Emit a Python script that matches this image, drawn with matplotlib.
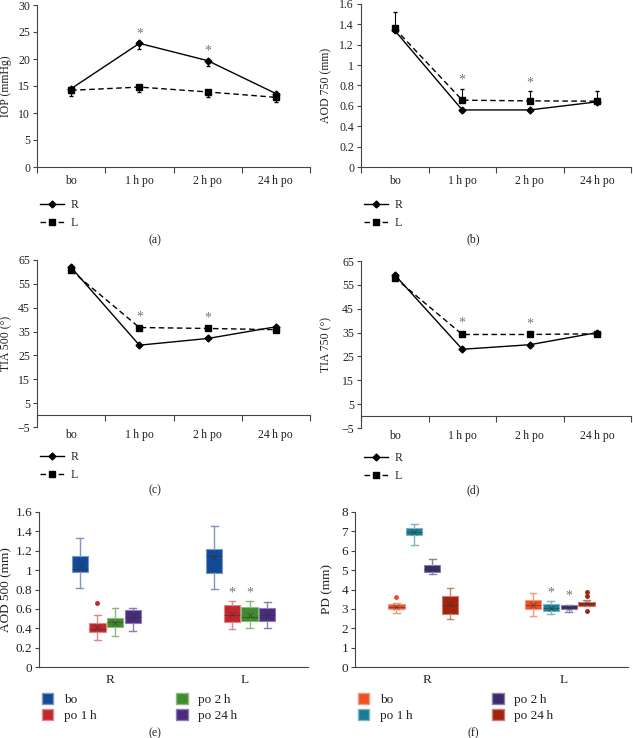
import numpy as np
import matplotlib
matplotlib.use("Agg")
import matplotlib.pyplot as plt
from matplotlib.patches import Patch
from matplotlib.lines import Line2D

plt.rcParams['font.family'] = ['Liberation Serif', 'DejaVu Serif']
plt.rcParams['font.size'] = 8.5
plt.rcParams['text.color'] = '#222222'
plt.rcParams['axes.labelcolor'] = '#222222'
plt.rcParams['xtick.color'] = '#444444'
plt.rcParams['ytick.color'] = '#444444'
plt.rcParams['xtick.labelcolor'] = '#222222'
plt.rcParams['ytick.labelcolor'] = '#222222'

# ---- Daten ----
zeitpunkte = ['bo', '1\u2009h po', '2\u2009h po', '24\u2009h po']

iop_R = [14.5, 22.9, 19.7, 13.6]
iop_L = [14.2, 14.8, 13.9, 12.9]
iop_R_err = [0.8, 1.1, 1.0, 0.6]
iop_L_err = [1.0, 0.9, 0.9, 0.9]
iop_stern = [24.7, 21.5]

aod750_R = [1.34, 0.56, 0.56, 0.64]
aod750_L = [1.36, 0.656, 0.649, 0.646]
aod750_L_err = [0.165, 0.108, 0.10, 0.10]
aod750_stern = [0.85, 0.82]

tia500_R = [61.9, 29.3, 32.1, 37.0]
tia500_L = [60.6, 36.7, 36.3, 35.8]
tia500_stern = [41.2, 40.5]

tia750_R = [59.2, 28.0, 29.9, 35.0]
tia750_L = [58.0, 34.2, 34.2, 34.5]
tia750_stern = [39.2, 38.6]

gruppen = ['R', 'L']
box_serien = ['bo', 'po 1\u2009h', 'po 2\u2009h', 'po 24\u2009h']

# AOD 500: je Serie [R, L] -> (whislo, q1, med, q3, whishi, mean, fliers)
aod500_stats = [
    [(0.815, 0.98, 1.015, 1.145, 1.335, 1.055, []),
     (0.81, 0.975, 1.15, 1.22, 1.46, 1.135, [])],
    [(0.28, 0.36, 0.395, 0.455, 0.54, 0.41, [0.66]),
     (0.395, 0.465, 0.54, 0.635, 0.68, 0.545, [])],
    [(0.325, 0.41, 0.465, 0.505, 0.61, 0.455, []),
     (0.405, 0.475, 0.52, 0.615, 0.68, 0.54, [])],
    [(0.375, 0.455, 0.515, 0.585, 0.61, 0.525, []),
     (0.405, 0.48, 0.54, 0.61, 0.67, 0.54, [])],
]
aod500_stern = [0.76, 0.76]

# PD
pd_stats = [
    [(2.8, 2.98, 3.1, 3.23, 3.3, 3.1, [3.61]),
     (2.65, 2.98, 3.22, 3.48, 3.82, 3.22, [])],
    [(6.31, 6.8, 6.97, 7.19, 7.4, 6.97, []),
     (2.72, 2.9, 3.06, 3.24, 3.42, 3.03, [])],
    [(4.78, 4.9, 5.08, 5.28, 5.59, 5.11, []),
     (2.82, 2.98, 3.1, 3.22, 3.22, 3.06, [])],
    [(2.49, 2.75, 3.18, 3.66, 4.1, 3.23, []),
     (3.16, 3.16, 3.29, 3.37, 3.45, 3.28, [3.89, 3.66, 2.9])],
]
pd_stern = [3.8, 3.65]

aod500_farben = [('#124A98', '#7F97BF'), ('#C1272D', '#D98A8C'),
                 ('#3F8C2E', '#8DB880'), ('#4A2B80', '#8C7DB0')]
pd_farben = [('#F04E22', '#F29A7F'), ('#1B7C95', '#7EB4C4'),
             ('#3B2A6E', '#8A80A8'), ('#A3230F', '#C98071')]

fig = plt.figure(figsize=(6.33, 7.38), dpi=100)
W, H = 633, 738

# Zahlen mit echtem Minuszeichen
zahl_fmt = matplotlib.ticker.FuncFormatter(lambda v, p: ('%g' % v).replace('-', '\u2212'))


def achse(x0, x1, y_oben, y_unten):
    return fig.add_axes([x0 / W, 1 - y_unten / H, (x1 - x0) / W, (y_unten - y_oben) / H])


def linien_panel(ax, R, L, ylim, yticks, ylabel, sterne, R_err=None, L_err=None,
                 err_oben=False, null_achse=False, label_x=-0.09, tick_pad=6, leg_y=-0.17):
    x = np.arange(len(zeitpunkte)) + 0.5
    kw_R = dict(color='black', lw=1.0, marker='D', ms=3.5)
    kw_L = dict(color='black', lw=1.0, ls=(0, (4, 2.5)), marker='s', ms=5)
    if L_err is not None:
        yerr = [np.zeros(4), L_err] if err_oben else [L_err, np.zeros(4)]
        ax.errorbar(x, L, yerr=yerr, capsize=1.5, elinewidth=0.8, ecolor='black', **kw_L)
    else:
        ax.plot(x, L, **kw_L)
    if R_err is not None:
        yerr = [np.zeros(4), R_err] if err_oben else [R_err, np.zeros(4)]
        ax.errorbar(x, R, yerr=yerr, capsize=1.5, elinewidth=0.8, ecolor='black', **kw_R)
    else:
        ax.plot(x, R, **kw_R)
    for xi, yi in zip(x[1:3], sterne):
        ax.text(xi, yi, '*', ha='center', va='center', color='#777777', fontsize=10)
    ax.set_xlim(0, 4)
    ax.set_ylim(*ylim)
    ax.set_yticks(yticks)
    ax.yaxis.set_major_formatter(zahl_fmt)
    ax.set_xticks(np.arange(5))
    ax.set_xticklabels([])
    ax.set_xticks(x, minor=True)
    ax.set_xticklabels(zeitpunkte, minor=True)
    ax.tick_params(axis='x', which='minor', length=0, pad=tick_pad)
    ax.tick_params(axis='x', which='major', length=4, width=0.8)
    ax.tick_params(axis='y', length=3, width=0.8, pad=2)
    for s in ['top', 'right']:
        ax.spines[s].set_visible(False)
    for s in ['left', 'bottom']:
        ax.spines[s].set_color('#444444')
        ax.spines[s].set_linewidth(0.8)
    if null_achse:
        ax.spines['bottom'].set_position(('data', 0))
    ax.set_ylabel(ylabel)
    ax.yaxis.set_label_coords(label_x, 0.5)
    handles = [Line2D([], [], **kw_R), Line2D([], [], **kw_L)]
    ax.legend(handles, ['R', 'L'], loc='upper left', frameon=False,
              handlelength=2.0, handletextpad=0.6, labelspacing=0.5,
              borderaxespad=0, bbox_to_anchor=(-0.005, leg_y))


def box_panel(ax, stats, farben, ylim, yticks, ylabel, sterne, label_x=-0.12):
    offs = np.array([-1.5, -0.5, 0.5, 1.5]) * 0.131
    for i, serie in enumerate(stats):
        dunkel, hell = farben[i]
        bstats = [dict(whislo=lo, q1=q1, med=med, q3=q3, whishi=hi, mean=mean,
                       fliers=fl, label='')
                  for (lo, q1, med, q3, hi, mean, fl) in serie]
        pos = np.arange(1, 3) + offs[i]
        ax.bxp(bstats, positions=pos, widths=0.12, patch_artist=True, showmeans=True,
               boxprops=dict(facecolor=dunkel, edgecolor=hell, lw=0.8),
               whiskerprops=dict(color=hell, lw=1.0),
               capprops=dict(color=hell, lw=1.0),
               medianprops=dict(color='#333333', lw=0.6, alpha=0.6),
               meanprops=dict(marker='x', markeredgecolor='#333333', ms=4, mew=0.6, alpha=0.6),
               flierprops=dict(marker='o', markerfacecolor=dunkel, markeredgecolor=dunkel, ms=2.5),
               capwidths=0.05)
    for j, yi in enumerate(sterne):
        ax.text(2 + offs[j + 1], yi, '*', ha='center', va='center', color='#777777', fontsize=10)
    ax.set_xlim(0.5, 2.5)
    ax.set_ylim(*ylim)
    ax.set_yticks(yticks)
    ax.yaxis.set_major_formatter(zahl_fmt)
    ax.set_xticks([1.03, 2.03])
    ax.set_xticklabels(gruppen)
    ax.tick_params(axis='both', labelsize=9.5)
    ax.tick_params(axis='x', length=0, pad=5)
    ax.tick_params(axis='y', length=3, width=0.8, pad=2)
    for s in ['top', 'right']:
        ax.spines[s].set_visible(False)
    for s in ['left', 'bottom']:
        ax.spines[s].set_color('#444444')
        ax.spines[s].set_linewidth(0.8)
    ax.set_ylabel(ylabel, fontsize=9.5)
    ax.yaxis.set_label_coords(label_x, 0.5)
    handles = [Patch(facecolor=farben[i][0], edgecolor=farben[i][1]) for i in range(4)]
    ax.legend(handles, box_serien, loc='upper left', ncol=2, frameon=False,
              handlelength=0.9, handleheight=0.9, handletextpad=0.8, labelspacing=0.2,
              columnspacing=6.0, borderaxespad=0, bbox_to_anchor=(-0.01, -0.135),
              fontsize=9.5)


# (a) IOP
ax_a = achse(37, 310, 5, 167)
linien_panel(ax_a, iop_R, iop_L, (0, 30), np.arange(0, 31, 5), 'IOP (mmHg)', iop_stern,
             R_err=iop_R_err, L_err=iop_L_err, label_x=-0.09, leg_y=-0.17)

# (b) AOD 750
ax_b = achse(361, 631, 4, 167)
linien_panel(ax_b, aod750_R, aod750_L, (0, 1.6), np.arange(0, 1.61, 0.2), 'AOD 750 (mm)',
             aod750_stern, L_err=aod750_L_err, err_oben=True, label_x=-0.105, leg_y=-0.17)

# (c) TIA 500
ax_c = achse(37, 310, 260, 427)
linien_panel(ax_c, tia500_R, tia500_L, (-5, 65), np.arange(-5, 66, 10), 'TIA 500 (°)',
             tia500_stern, null_achse=True, label_x=-0.09, tick_pad=10, leg_y=-0.115)

# (d) TIA 750
ax_d = achse(361, 631, 261, 428)
linien_panel(ax_d, tia750_R, tia750_L, (-5, 65), np.arange(-5, 66, 10), 'TIA 750 (°)',
             tia750_stern, null_achse=True, label_x=-0.105, tick_pad=10, leg_y=-0.115)

# (e) AOD 500 Boxplot
ax_e = achse(39, 308, 512, 667)
box_panel(ax_e, aod500_stats, aod500_farben, (0, 1.6), np.arange(0, 1.61, 0.2),
          'AOD 500 (mm)', aod500_stern, label_x=-0.1)

# (f) PD Boxplot
ax_f = achse(355, 628, 512, 667)
box_panel(ax_f, pd_stats, pd_farben, (0, 8), np.arange(0, 9, 1), 'PD (mm)', pd_stern,
          label_x=-0.08)

# Bildunterschriften
for txt, xp, yp in [('(a)', 155, 240), ('(b)', 473, 239), ('(c)', 155, 490),
                    ('(d)', 473, 490), ('(e)', 155, 733), ('(f)', 473, 733)]:
    fig.text(xp / W, 1 - yp / H, txt, ha='center', va='center', fontsize=8.5)

plt.savefig('out.png', dpi=100)
